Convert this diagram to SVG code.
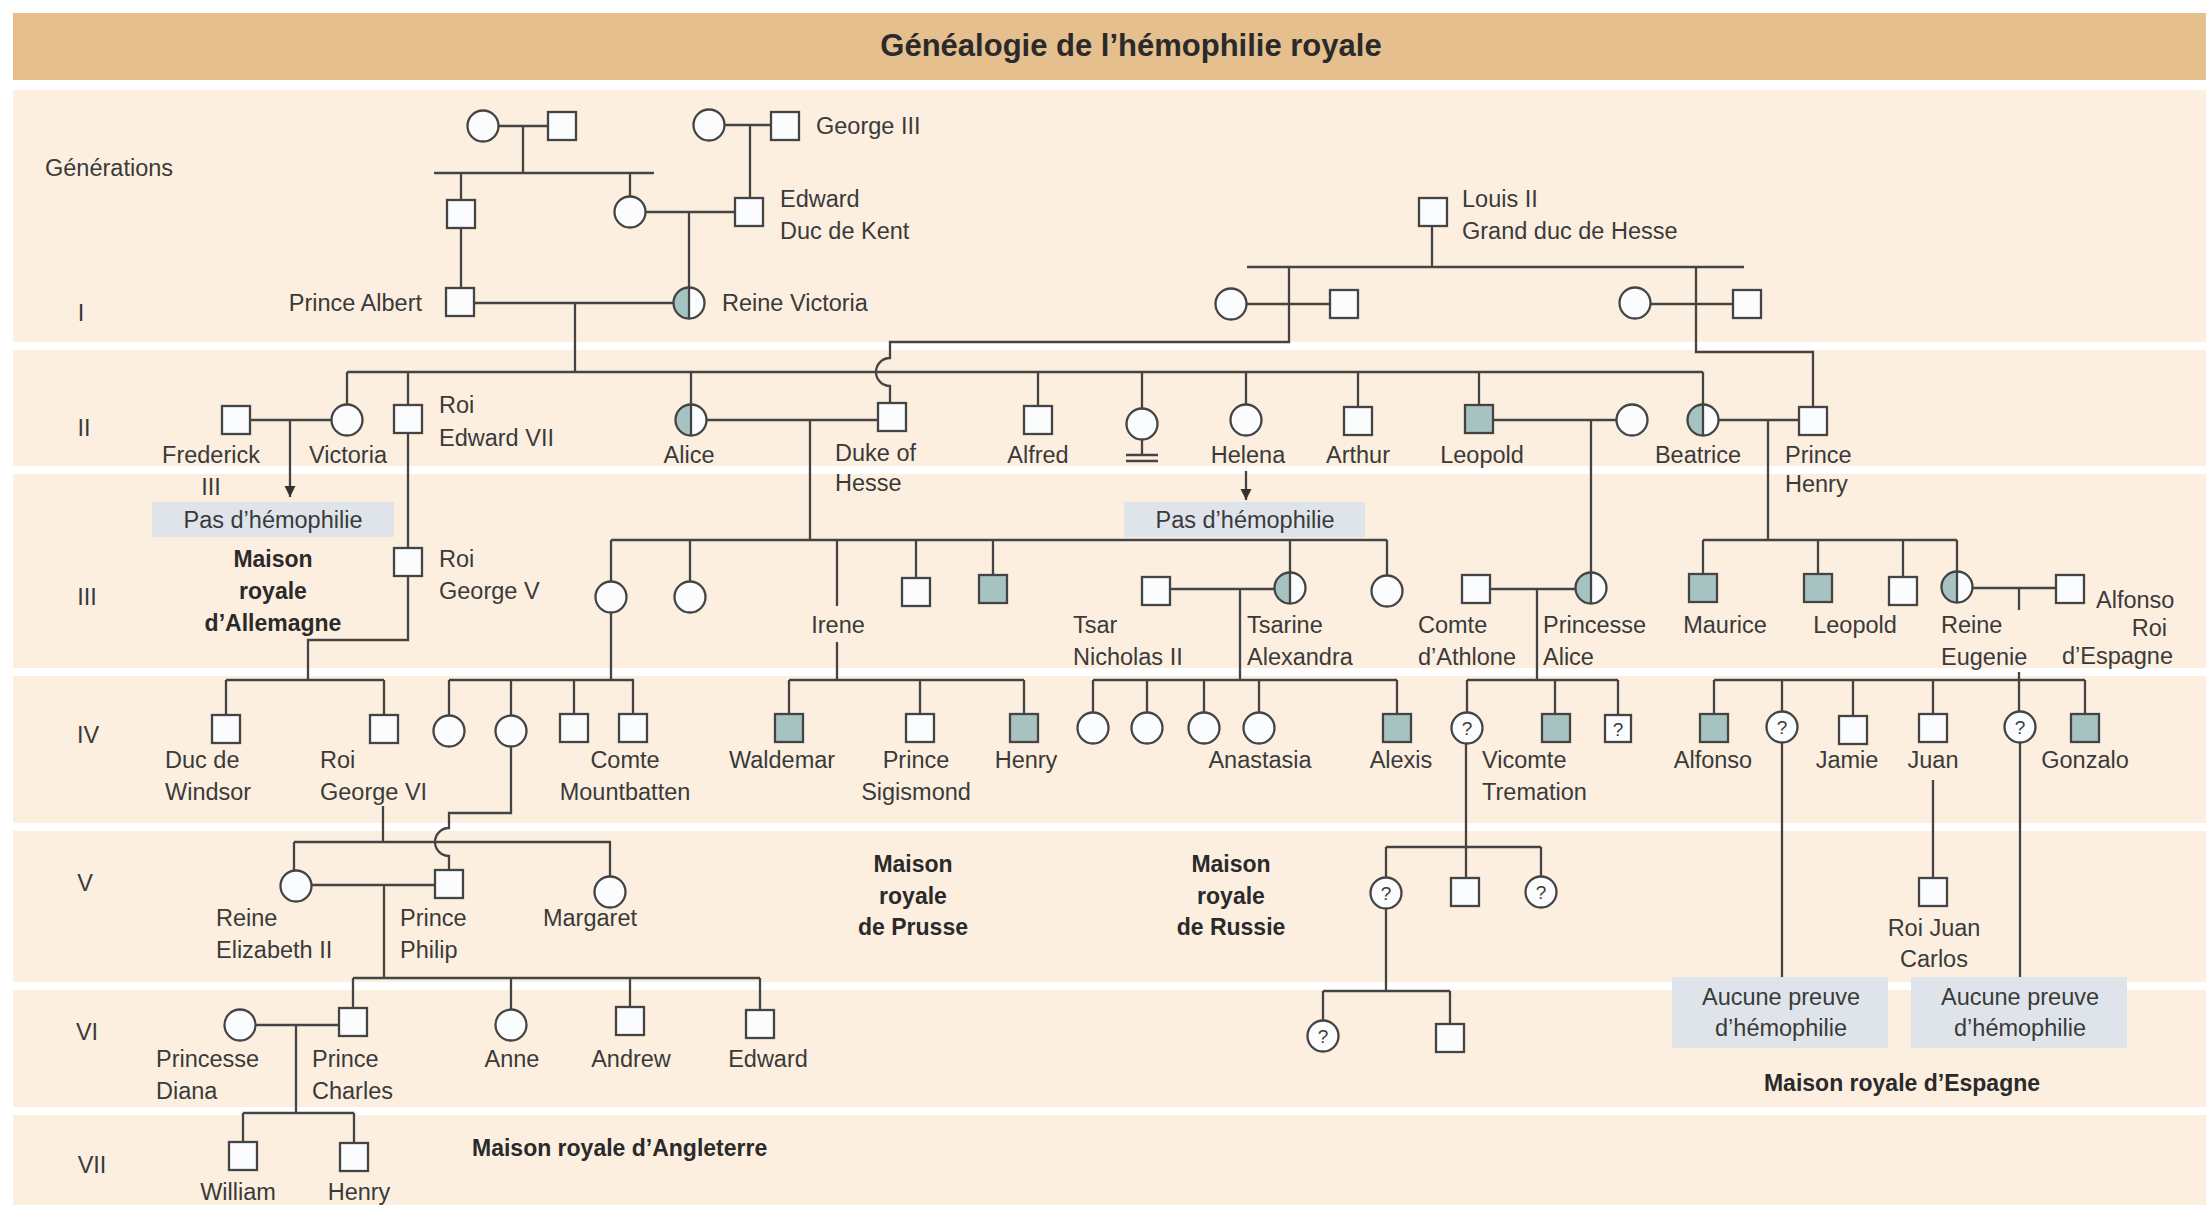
<svg xmlns="http://www.w3.org/2000/svg" width="2210" height="1205" viewBox="0 0 2210 1205">
<style>
.t{font-family:"Liberation Sans",Arial,sans-serif;font-size:23.5px;fill:#3a3a3a}
.b{font-family:"Liberation Sans",Arial,sans-serif;font-size:23px;font-weight:bold;fill:#2a2a2a}
.m{text-anchor:middle}
.e{text-anchor:end}
.q{font-family:"Liberation Sans",Arial,sans-serif;font-size:19px;fill:#3a3a3a;text-anchor:middle}
.ln{fill:none;stroke:#444;stroke-width:2.3}
.w{fill:#fbfcfd;stroke:#444;stroke-width:2.3}
.s{fill:#a7c3c1;stroke:#444;stroke-width:2.3}
.box{fill:#dfe4ea}
</style>
<defs>
<rect id="sq" x="-14" y="-14" width="28" height="28"/>
<rect id="sqs" x="-13" y="-14" width="26" height="27"/>
<circle id="ci" r="15.5"/>
<g id="hc">
<circle r="15.5" fill="#fbfcfd"/>
<path d="M0,-15.5 A15.5,15.5 0 0 0 0,15.5 Z" fill="#a7c3c1"/>
<circle r="15.5" fill="none" stroke="#444" stroke-width="2.3"/>
<path d="M0,-15.5 V15.5" stroke="#444" stroke-width="2.3"/>
</g>
<marker id="arr" viewBox="0 0 10 10" refX="10" refY="5" markerWidth="5" markerHeight="5" orient="auto" markerUnits="strokeWidth">
<path d="M0,0 L10,5 L0,10 Z" fill="#333"/>
</marker>
</defs>

<!-- background -->
<rect x="0" y="0" width="2210" height="1205" fill="#ffffff"/>
<rect x="13" y="90" width="2193" height="1115" fill="#fcefdf"/>
<rect x="13" y="13" width="2193" height="67" fill="#e5bf8d"/>
<g fill="#ffffff">
<rect x="13" y="342" width="2193" height="8"/>
<rect x="13" y="466" width="2193" height="8"/>
<rect x="13" y="668" width="2193" height="8"/>
<rect x="13" y="823" width="2193" height="8"/>
<rect x="13" y="982" width="2193" height="8"/>
<rect x="13" y="1107" width="2193" height="8"/>
</g>
<text x="1131" y="56" class="b m" style="font-size:31px">Généalogie de l’hémophilie royale</text>

<!-- generation labels -->
<g id="generations">
<text x="45" y="176" class="t">Générations</text>
<text x="81" y="321" class="t m">I</text>
<text x="84" y="436" class="t m">II</text>
<text x="87" y="605" class="t m">III</text>
<text x="88" y="743" class="t m">IV</text>
<text x="85" y="891" class="t m">V</text>
<text x="87" y="1040" class="t m">VI</text>
<text x="92" y="1173" class="t m">VII</text>
</g>

<!-- connectors -->
<g id="connectors" class="ln">
<path d="M499,126 H548 M523,126 V173 M434,173 H654 M461,173 V200 M630,173 V197"/>
<path d="M645,212 H735 M689,212 V288"/>
<path d="M724,125 H771 M750,125 V198"/>
<path d="M461,228 V288 M474,303 H674 M575,303 V372"/>
<path d="M347,372 H1703 M347,372 V405 M408,372 V405 M691,372 V405 M1038,372 V406 M1142,372 V409 M1246,372 V405 M1358,372 V407 M1479,372 V405 M1703,372 V405"/>
<path d="M1432,226 V267 M1247,267 H1744"/>
<path d="M1289,267 V342 H890 V358 A14,14 0 0 0 890,386 V403"/>
<path d="M1246,304 H1330"/>
<path d="M1651,304 H1733 M1696,267 V352 H1813 V407"/>
<path d="M250,420 H332"/>
<path d="M290,420 V497" marker-end="url(#arr)"/>
<path d="M408,433 V548 M408,576 V640 H308 V680"/>
<path d="M706,420 H878 M810,420 V540"/>
<path d="M1142,440 V455 M1126,455 H1158 M1126,461 H1158"/>
<path d="M1246,471 V500" marker-end="url(#arr)"/>
<path d="M1493,420 H1617 M1591,420 V572"/>
<path d="M1718,420 H1799 M1768,420 V540"/>
<path d="M611,540 H1387 M611,540 V582 M690,540 V582 M837,540 V606 M837,642 V680 M916,540 V578 M993,540 V575 M1290,540 V573 M1387,540 V576"/>
<path d="M611,613 V680"/>
<path d="M1170,589 H1275 M1240,589 V680"/>
<path d="M1490,589 H1576 M1537,589 V680"/>
<path d="M1703,540 H1957 M1703,540 V574 M1818,540 V574 M1903,540 V577 M1957,540 V572"/>
<path d="M1972,588 H2056 M2019,588 V610 M2019,672 V712"/>
<path d="M226,680 H384 M226,680 V715 M384,680 V715"/>
<path d="M449,680 H634 M449,680 V716 M511,680 V716 M574,680 V714 M633,680 V714"/>
<path d="M511,747 V813 H449 V828 A14,14 0 0 0 449,856 V870"/>
<path d="M789,680 H1024 M789,680 V714 M920,680 V714 M1024,680 V714"/>
<path d="M1093,680 H1397 M1093,680 V713 M1147,680 V713 M1204,680 V713 M1259,680 V713 M1397,680 V714"/>
<path d="M1467,680 H1614 M1467,680 V712 M1555,680 V714 M1618,680 V714 M1614,680 H1618"/>
<path d="M1466,744 V878 M1386,847 H1541 M1386,847 V878 M1541,847 V877"/>
<path d="M1386,909 V991 M1323,991 H1450 M1323,991 V1021 M1450,991 V1024"/>
<path d="M1714,680 H2085 M1714,680 V714 M1782,680 V712 M1853,680 V716 M1933,680 V714 M2085,680 V714"/>
<path d="M1782,743 V977 M2020,743 V977 M1933,780 V878"/>
<path d="M383,806 V842 M294,842 H611 M294,842 V871 M610,842 V877"/>
<path d="M311,885 H435 M384,885 V978"/>
<path d="M353,978 H760 M353,978 V1008 M511,978 V1010 M630,978 V1007 M760,978 V1010"/>
<path d="M255,1025 H339 M296,1025 V1113"/>
<path d="M243,1113 H354 M243,1113 V1142 M354,1113 V1143"/>
</g>

<!-- generation 0 -->
<g id="n-arr-grandmere"><use href="#ci" x="483" y="126" class="w"/></g>
<g id="n-arr-grandpere"><use href="#sq" x="562" y="126" class="w"/></g>
<g id="n-george3-epouse"><use href="#ci" x="709" y="125" class="w"/></g>
<g id="n-george3"><use href="#sq" x="785" y="126" class="w"/><text x="816" y="134" class="t">George III</text></g>
<g id="n-pere-albert"><use href="#sq" x="461" y="214" class="w"/></g>
<g id="n-mere-victoria"><use href="#ci" x="630" y="212" class="w"/></g>
<g id="n-edward-kent"><use href="#sq" x="749" y="212" class="w"/><text x="780" y="207" class="t">Edward</text><text x="780" y="239" class="t">Duc de Kent</text></g>
<g id="n-louis2"><use href="#sq" x="1433" y="212" class="w"/><text x="1462" y="207" class="t">Louis II</text><text x="1462" y="239" class="t">Grand duc de Hesse</text></g>

<!-- generation I -->
<g id="n-albert"><use href="#sq" x="460" y="302" class="w"/><text x="422" y="311" class="t e">Prince Albert</text></g>
<g id="n-victoria"><use href="#hc" x="689" y="303"/><text x="722" y="311" class="t">Reine Victoria</text></g>
<g id="n-hesse-mere"><use href="#ci" x="1231" y="304" class="w"/></g>
<g id="n-hesse-pere"><use href="#sq" x="1344" y="304" class="w"/></g>
<g id="n-henry-mere"><use href="#ci" x="1635" y="303" class="w"/></g>
<g id="n-henry-pere"><use href="#sq" x="1747" y="304" class="w"/></g>

<!-- generation II -->
<g id="n-frederick"><use href="#sq" x="236" y="420" class="w"/><text x="211" y="463" class="t m">Frederick</text><text x="211" y="495" class="t m">III</text></g>
<g id="n-victoria-fille"><use href="#ci" x="347" y="420" class="w"/><text x="348" y="463" class="t m">Victoria</text></g>
<g id="n-edward7"><use href="#sq" x="408" y="419" class="w"/><text x="439" y="413" class="t">Roi</text><text x="439" y="446" class="t">Edward VII</text></g>
<g id="n-alice"><use href="#hc" x="691" y="420"/><text x="689" y="463" class="t m">Alice</text></g>
<g id="n-duke-hesse"><use href="#sq" x="892" y="417" class="w"/><text x="835" y="461" class="t">Duke of</text><text x="835" y="491" class="t">Hesse</text></g>
<g id="n-alfred"><use href="#sq" x="1038" y="420" class="w"/><text x="1038" y="463" class="t m">Alfred</text></g>
<g id="n-fille-sans-enfant"><use href="#ci" x="1142" y="424" class="w"/></g>
<g id="n-helena"><use href="#ci" x="1246" y="420" class="w"/><text x="1248" y="463" class="t m">Helena</text></g>
<g id="n-arthur"><use href="#sq" x="1358" y="421" class="w"/><text x="1358" y="463" class="t m">Arthur</text></g>
<g id="n-leopold"><use href="#sq" x="1479" y="419" class="s"/><text x="1482" y="463" class="t m">Leopold</text></g>
<g id="n-leopold-epouse"><use href="#ci" x="1632" y="420" class="w"/></g>
<g id="n-beatrice"><use href="#hc" x="1703" y="420"/><text x="1698" y="463" class="t m">Beatrice</text></g>
<g id="n-prince-henry"><use href="#sq" x="1813" y="421" class="w"/><text x="1785" y="463" class="t">Prince</text><text x="1785" y="492" class="t">Henry</text></g>
<g id="n-pas-hemo-1"><rect x="152" y="502" width="242" height="35" class="box"/><text x="273" y="528" class="t m">Pas d’hémophilie</text></g>
<g id="n-pas-hemo-2"><rect x="1124" y="502" width="241" height="35" class="box"/><text x="1245" y="528" class="t m">Pas d’hémophilie</text></g>

<!-- generation III -->
<g id="n-maison-allemagne"><text x="273" y="567" class="b m">Maison</text><text x="273" y="599" class="b m">royale</text><text x="273" y="631" class="b m">d’Allemagne</text></g>
<g id="n-george5"><use href="#sq" x="408" y="562" class="w"/><text x="439" y="567" class="t">Roi</text><text x="439" y="599" class="t">George V</text></g>
<g id="n-hesse-f1"><use href="#ci" x="611" y="597" class="w"/></g>
<g id="n-hesse-f2"><use href="#ci" x="690" y="597" class="w"/></g>
<g id="n-irene"><text x="838" y="633" class="t m">Irene</text></g>
<g id="n-hesse-g1"><use href="#sq" x="916" y="592" class="w"/></g>
<g id="n-hesse-g2"><use href="#sq" x="993" y="589" class="s"/></g>
<g id="n-nicholas"><use href="#sq" x="1156" y="591" class="w"/><text x="1073" y="633" class="t">Tsar</text><text x="1073" y="665" class="t">Nicholas II</text></g>
<g id="n-alexandra"><use href="#hc" x="1290" y="588"/><text x="1247" y="633" class="t">Tsarine</text><text x="1247" y="665" class="t">Alexandra</text></g>
<g id="n-hesse-f3"><use href="#ci" x="1387" y="591" class="w"/></g>
<g id="n-athlone"><use href="#sq" x="1476" y="589" class="w"/><text x="1418" y="633" class="t">Comte</text><text x="1418" y="665" class="t">d’Athlone</text></g>
<g id="n-princesse-alice"><use href="#hc" x="1591" y="588"/><text x="1543" y="633" class="t">Princesse</text><text x="1543" y="665" class="t">Alice</text></g>
<g id="n-maurice"><use href="#sq" x="1703" y="588" class="s"/><text x="1725" y="633" class="t m">Maurice</text></g>
<g id="n-leopold2"><use href="#sq" x="1818" y="588" class="s"/><text x="1855" y="633" class="t m">Leopold</text></g>
<g id="n-battenberg-g"><use href="#sq" x="1903" y="591" class="w"/></g>
<g id="n-eugenie"><use href="#hc" x="1957" y="587"/><text x="1941" y="633" class="t">Reine</text><text x="1941" y="665" class="t">Eugenie</text></g>
<g id="n-alfonso-roi"><use href="#sq" x="2070" y="589" class="w"/><text x="2096" y="608" class="t">Alfonso</text><text x="2167" y="636" class="t e">Roi</text><text x="2173" y="664" class="t e">d’Espagne</text></g>

<!-- generation IV -->
<g id="n-windsor"><use href="#sq" x="226" y="729" class="w"/><text x="165" y="768" class="t">Duc de</text><text x="165" y="800" class="t">Windsor</text></g>
<g id="n-george6"><use href="#sq" x="384" y="729" class="w"/><text x="320" y="768" class="t">Roi</text><text x="320" y="800" class="t">George VI</text></g>
<g id="n-mb-f1"><use href="#ci" x="449" y="731" class="w"/></g>
<g id="n-mb-f2"><use href="#ci" x="511" y="731" class="w"/></g>
<g id="n-mb-g1"><use href="#sq" x="574" y="728" class="w"/></g>
<g id="n-mountbatten"><use href="#sq" x="633" y="728" class="w"/><text x="625" y="768" class="t m">Comte</text><text x="625" y="800" class="t m">Mountbatten</text></g>
<g id="n-waldemar"><use href="#sq" x="789" y="728" class="s"/><text x="782" y="768" class="t m">Waldemar</text></g>
<g id="n-sigismond"><use href="#sq" x="920" y="728" class="w"/><text x="916" y="768" class="t m">Prince</text><text x="916" y="800" class="t m">Sigismond</text></g>
<g id="n-henry-prusse"><use href="#sq" x="1024" y="728" class="s"/><text x="1026" y="768" class="t m">Henry</text></g>
<g id="n-ru-f1"><use href="#ci" x="1093" y="728" class="w"/></g>
<g id="n-ru-f2"><use href="#ci" x="1147" y="728" class="w"/></g>
<g id="n-ru-f3"><use href="#ci" x="1204" y="728" class="w"/></g>
<g id="n-anastasia"><use href="#ci" x="1259" y="728" class="w"/><text x="1260" y="768" class="t m">Anastasia</text></g>
<g id="n-alexis"><use href="#sq" x="1397" y="728" class="s"/><text x="1401" y="768" class="t m">Alexis</text></g>
<g id="n-ath-q1"><use href="#ci" x="1467" y="728" class="w"/><text x="1467" y="735" class="q">?</text></g>
<g id="n-tremation"><use href="#sq" x="1556" y="728" class="s"/><text x="1482" y="768" class="t">Vicomte</text><text x="1482" y="800" class="t">Tremation</text></g>
<g id="n-ath-q2"><use href="#sqs" x="1618" y="729" class="w"/><text x="1618" y="736" class="q">?</text></g>
<g id="n-alfonso"><use href="#sq" x="1714" y="728" class="s"/><text x="1713" y="768" class="t m">Alfonso</text></g>
<g id="n-es-q1"><use href="#ci" x="1782" y="727" class="w"/><text x="1782" y="734" class="q">?</text></g>
<g id="n-jamie"><use href="#sq" x="1853" y="730" class="w"/><text x="1847" y="768" class="t m">Jamie</text></g>
<g id="n-juan"><use href="#sq" x="1933" y="728" class="w"/><text x="1933" y="768" class="t m">Juan</text></g>
<g id="n-es-q2"><use href="#ci" x="2020" y="727" class="w"/><text x="2020" y="734" class="q">?</text></g>
<g id="n-gonzalo"><use href="#sq" x="2085" y="728" class="s"/><text x="2085" y="768" class="t m">Gonzalo</text></g>

<!-- generation V -->
<g id="n-elizabeth"><use href="#ci" x="296" y="886" class="w"/><text x="216" y="926" class="t">Reine</text><text x="216" y="958" class="t">Elizabeth II</text></g>
<g id="n-philip"><use href="#sq" x="449" y="884" class="w"/><text x="400" y="926" class="t">Prince</text><text x="400" y="958" class="t">Philip</text></g>
<g id="n-margaret"><use href="#ci" x="610" y="892" class="w"/><text x="590" y="926" class="t m">Margaret</text></g>
<g id="n-maison-prusse"><text x="913" y="872" class="b m">Maison</text><text x="913" y="904" class="b m">royale</text><text x="913" y="935" class="b m">de Prusse</text></g>
<g id="n-maison-russie"><text x="1231" y="872" class="b m">Maison</text><text x="1231" y="904" class="b m">royale</text><text x="1231" y="935" class="b m">de Russie</text></g>
<g id="n-v-q1"><use href="#ci" x="1386" y="893" class="w"/><text x="1386" y="900" class="q">?</text></g>
<g id="n-v-g1"><use href="#sq" x="1465" y="892" class="w"/></g>
<g id="n-v-q2"><use href="#ci" x="1541" y="892" class="w"/><text x="1541" y="899" class="q">?</text></g>
<g id="n-juan-carlos"><use href="#sq" x="1933" y="892" class="w"/><text x="1934" y="936" class="t m">Roi Juan</text><text x="1934" y="967" class="t m">Carlos</text></g>
<g id="n-aucune-1"><rect x="1672" y="977" width="216" height="71" class="box"/><text x="1781" y="1005" class="t m">Aucune preuve</text><text x="1781" y="1036" class="t m">d’hémophilie</text></g>
<g id="n-aucune-2"><rect x="1911" y="977" width="216" height="71" class="box"/><text x="2020" y="1005" class="t m">Aucune preuve</text><text x="2020" y="1036" class="t m">d’hémophilie</text></g>
<g id="n-maison-espagne"><text x="1902" y="1091" class="b m">Maison royale d’Espagne</text></g>

<!-- generation VI -->
<g id="n-diana"><use href="#ci" x="240" y="1025" class="w"/><text x="156" y="1067" class="t">Princesse</text><text x="156" y="1099" class="t">Diana</text></g>
<g id="n-charles"><use href="#sq" x="353" y="1022" class="w"/><text x="312" y="1067" class="t">Prince</text><text x="312" y="1099" class="t">Charles</text></g>
<g id="n-anne"><use href="#ci" x="511" y="1025" class="w"/><text x="512" y="1067" class="t m">Anne</text></g>
<g id="n-andrew"><use href="#sq" x="630" y="1021" class="w"/><text x="631" y="1067" class="t m">Andrew</text></g>
<g id="n-edward"><use href="#sq" x="760" y="1024" class="w"/><text x="768" y="1067" class="t m">Edward</text></g>
<g id="n-vi-q1"><use href="#ci" x="1323" y="1036" class="w"/><text x="1323" y="1043" class="q">?</text></g>
<g id="n-vi-g1"><use href="#sq" x="1450" y="1038" class="w"/></g>

<!-- generation VII -->
<g id="n-william"><use href="#sq" x="243" y="1156" class="w"/><text x="238" y="1200" class="t m">William</text></g>
<g id="n-henry"><use href="#sq" x="354" y="1157" class="w"/><text x="359" y="1200" class="t m">Henry</text></g>
<g id="n-maison-angleterre"><text x="472" y="1156" class="b">Maison royale d’Angleterre</text></g>
</svg>
